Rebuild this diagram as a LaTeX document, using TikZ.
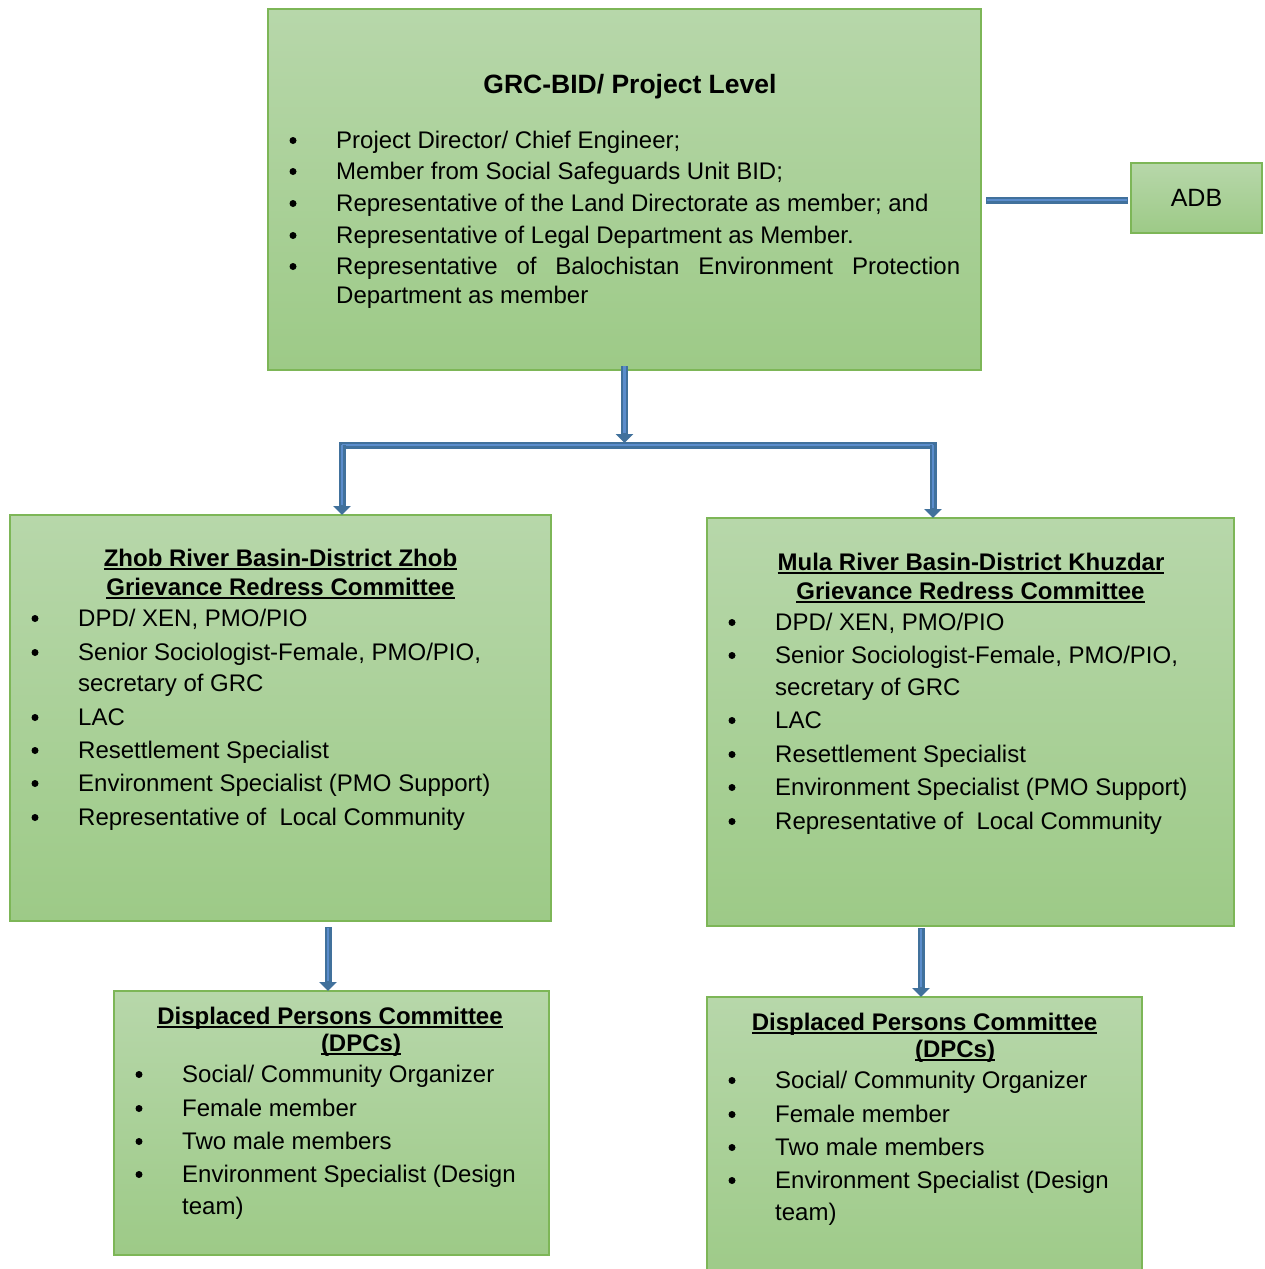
\documentclass[tikz,border=0pt]{standalone}
\usepackage{fontspec}
\setmainfont{Liberation Sans}
\usetikzlibrary{arrows.meta}
\definecolor{boxtop}{HTML}{B7D7AA}
\definecolor{boxbot}{HTML}{9DCA87}
\definecolor{boxline}{HTML}{7DB657}
\definecolor{arrdark}{HTML}{41719C}
\definecolor{arrlight}{HTML}{5B8DCC}
\newcommand{\myul}[1]{\setbox0\hbox{#1}\rlap{\rule[-4pt]{\wd0}{2pt}}\box0}
\tikzset{
 box/.style={draw=boxline, line width=1.5pt, top color=boxtop, bottom color=boxbot, inner sep=0pt, outer sep=0pt, anchor=north west},
 txt/.style={anchor=base west, inner sep=0pt, font=\fontsize{24}{28}\selectfont},
 ttl/.style={anchor=base, inner sep=0pt, font=\fontsize{24}{28}\selectfont\bfseries},
 bul/.style={circle, fill=black, inner sep=0pt, minimum size=7pt, yshift=7.5pt},
 conn/.style={draw=arrdark, line width=7pt},
 connin/.style={draw=arrlight, line width=2.6pt},
 tip/.style={-{Triangle[width=17pt,length=9pt]}}
}
\begin{document}
\begin{tikzpicture}[x=1pt,y=-1pt]
\useasboundingbox[fill=white] (0,0) rectangle (1265,1269);
% boxes
\node[box, minimum width=713pt, minimum height=361pt] (top) at (268,9) {};
\node[box, minimum width=131pt, minimum height=70pt, font=\fontsize{25}{29}\selectfont] (adb) at (1131,163) {ADB};
\node[box, minimum width=541pt, minimum height=406pt] (zhob) at (10,515) {};
\node[box, minimum width=527pt, minimum height=408pt] (mula) at (707,518) {};
\node[box, minimum width=435pt, minimum height=264pt] (dpcL) at (114,991) {};
\node[box, minimum width=435pt, minimum height=290pt] (dpcR) at (707,997) {};

% top box text
\node[ttl, font=\fontsize{26.5}{30}\selectfont\bfseries] (tt) at (630,93) {GRC-BID/ Project Level};
\node[bul] (tb1) at (293,148) {};
\node[txt] (t1) at (336,148) {Project Director/ Chief Engineer;};
\node[bul] (tb2) at (293,179) {};
\node[txt] (t2) at (336,179) {Member from Social Safeguards Unit BID;};
\node[bul] (tb3) at (293,211) {};
\node[txt] (t3) at (336,211) {Representative of the Land Directorate as member; and};
\node[bul] (tb4) at (293,243) {};
\node[txt] (t4) at (336,243) {Representative of Legal Department as Member.};
\node[bul] (tb5) at (293,274) {};
\node[txt] (t5) at (336,274) {\makebox[624pt][s]{Representative of Balochistan Environment Protection}};
\node[txt] (t5b) at (336,303) {Department as member};

% Zhob box text
\node[ttl] (zt1) at (280.5,566) {\myul{Zhob River Basin-District Zhob}};
\node[ttl] (zt2) at (280.5,595) {\myul{Grievance Redress Committee}};
\node[bul] (zb1) at (35,626) {};
\node[txt] (z1) at (78,626) {DPD/ XEN, PMO/PIO};
\node[bul] (zb2) at (35,660) {};
\node[txt] (z2) at (78,660) {Senior Sociologist-Female, PMO/PIO,};
\node[txt] (z2b) at (78,691) {secretary of GRC};
\node[bul] (zb3) at (35,725) {};
\node[txt] (z3) at (78,725) {LAC};
\node[bul] (zb4) at (35,758) {};
\node[txt] (z4) at (78,758) {Resettlement Specialist};
\node[bul] (zb5) at (35,791) {};
\node[txt] (z5) at (78,791) {Environment Specialist (PMO Support)};
\node[bul] (zb6) at (35,825) {};
\node[txt] (z6) at (78,825) {Representative of\ \ Local Community};

% Mula box text
\node[ttl] (mt1) at (971,570) {\myul{Mula River Basin-District Khuzdar}};
\node[ttl] (mt2) at (970.5,599) {\myul{Grievance Redress Committee}};
\node[bul] (mb1) at (732,630) {};
\node[txt] (m1) at (775,630) {DPD/ XEN, PMO/PIO};
\node[bul] (mb2) at (732,663) {};
\node[txt] (m2) at (775,663) {Senior Sociologist-Female, PMO/PIO,};
\node[txt] (m2b) at (775,695) {secretary of GRC};
\node[bul] (mb3) at (732,728) {};
\node[txt] (m3) at (775,728) {LAC};
\node[bul] (mb4) at (732,762) {};
\node[txt] (m4) at (775,762) {Resettlement Specialist};
\node[bul] (mb5) at (732,795) {};
\node[txt] (m5) at (775,795) {Environment Specialist (PMO Support)};
\node[bul] (mb6) at (732,829) {};
\node[txt] (m6) at (775,829) {Representative of\ \ Local Community};

% DPC left text
\node[ttl] (lt1) at (330,1024) {\myul{Displaced Persons Committee}};
\node[ttl] (lt2) at (361,1051) {\myul{(DPCs)}};
\node[bul] (lb1) at (139,1082) {};
\node[txt] (l1) at (182,1082) {Social/ Community Organizer};
\node[bul] (lb2) at (139,1116) {};
\node[txt] (l2) at (182,1116) {Female member};
\node[bul] (lb3) at (139,1149) {};
\node[txt] (l3) at (182,1149) {Two male members};
\node[bul] (lb4) at (139,1182) {};
\node[txt] (l4) at (182,1182) {Environment Specialist (Design};
\node[txt] (l4b) at (182,1214) {team)};

% DPC right text
\node[ttl] (rt1) at (924.5,1030) {\myul{Displaced Persons Committee}};
\node[ttl] (rt2) at (955,1057) {\myul{(DPCs)}};
\node[bul] (rb1) at (732,1088) {};
\node[txt] (r1) at (775,1088) {Social/ Community Organizer};
\node[bul] (rb2) at (732,1122) {};
\node[txt] (r2) at (775,1122) {Female member};
\node[bul] (rb3) at (732,1155) {};
\node[txt] (r3) at (775,1155) {Two male members};
\node[bul] (rb4) at (732,1188) {};
\node[txt] (r4) at (775,1188) {Environment Specialist (Design};
\node[txt] (r4b) at (775,1220) {team)};

% connector coordinates
\coordinate (j) at ([yshift=-75pt]top.south);
\coordinate (zn) at ([xshift=61.5pt]zhob.north);
\coordinate (mn) at ([xshift=-37.5pt]mula.north);
\coordinate (barL) at (zn |- j);
\coordinate (barR) at (mn |- j);
\coordinate (ts) at ([yshift=4pt]top.south);
\coordinate (ae) at (top.east |- adb.west);
\coordinate (a1) at ([xshift=5pt,yshift=-2pt]ae);
\coordinate (a2) at ([xshift=-3pt,yshift=-2pt]adb.west);
\coordinate (dl) at ([xshift=-3.5pt]dpcL.north);
\coordinate (dls0) at (dl |- zhob.south);
\coordinate (dls) at ([yshift=-6pt]dls0);
\coordinate (dr) at ([xshift=-3.5pt]dpcR.north);
\coordinate (drs0) at (dr |- mula.south);
\coordinate (drs) at ([yshift=-2pt]drs0);

% connectors
\draw[conn] (a1) -- (a2);
\draw[connin] ([xshift=1pt]a1) -- ([xshift=-1pt]a2);
\draw[conn, line cap=rect] (barL) -- (barR);
\draw[connin] (barL) -- (barR);
\draw[conn, tip] (ts) -- ([yshift=2pt]j);
\draw[connin, shorten >=10pt] (ts) -- ([yshift=2pt]j);
\draw[conn, tip] (barL) -- (barL |- zhob.north);
\draw[connin, shorten >=10pt] (barL) -- (barL |- zhob.north);
\draw[conn, tip] (barR) -- (barR |- mula.north);
\draw[connin, shorten >=10pt] (barR) -- (barR |- mula.north);
\draw[conn, tip] (dls) -- (dl);
\draw[connin, shorten >=10pt, shorten <=1pt] (dls) -- (dl);
\draw[conn, tip] (drs) -- (dr);
\draw[connin, shorten >=10pt, shorten <=1pt] (drs) -- (dr);
\end{tikzpicture}
\end{document}
